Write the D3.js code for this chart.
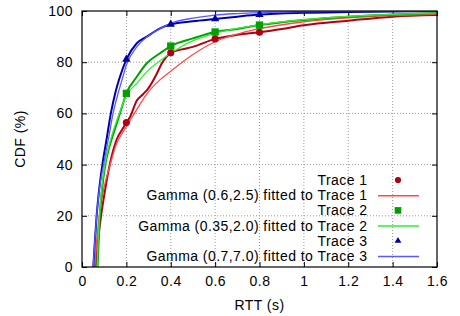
<!DOCTYPE html>
<html>
<head>
<meta charset="utf-8">
<title>RTT CDF</title>
<script src="https://d3js.org/d3.v7.min.js"></script>
<style>
  body { margin: 0; background: #fff; }
  svg text { font-family: "Liberation Sans", Arial, Helvetica, sans-serif; font-size: 14px; letter-spacing: 0.45px; fill: #000; }
  .grid line { stroke: #999; stroke-dasharray: 1,2; stroke-width: 1; }
</style>
</head>
<body>
<svg id="chart" width="460" height="316"></svg>
<script>
// x ticks (s) and y ticks (%)
var xTicks = [0, 0.2, 0.4, 0.6, 0.8, 1, 1.2, 1.4, 1.6];
var yTicks = [0, 20, 40, 60, 80, 100];
var markerX = [0.2, 0.4, 0.6, 0.8];

// measured traces [rtt, cdf]
var trace1 = [[0.062,0],[0.072,10],[0.086,20],[0.104,30],[0.125,40],[0.142,46],[0.157,50],[0.18,53.5],[0.2,56.4],[0.217,58.7],[0.247,65],[0.275,67.5],[0.299,69.8],[0.337,75.5],[0.36,79.6],[0.38,82],[0.4,83.7],[0.45,85],[0.5,86],[0.6,89.1],[0.7,90.7],[0.8,91.7],[0.9,93],[1.0,94.4],[1.2,96.2],[1.4,97.8],[1.6,98.4]];
var trace2 = [[0.07,0],[0.075,10],[0.08,20],[0.09,30],[0.105,40],[0.12,46],[0.134,50],[0.16,57],[0.18,62.5],[0.2,67.8],[0.247,74.3],[0.292,79.6],[0.352,83.5],[0.4,86.3],[0.5,89.3],[0.6,91.8],[0.7,93],[0.8,94.5],[1.0,96.5],[1.2,97.8],[1.4,98.6],[1.6,99.2]];
var trace3 = [[0.051,0],[0.058,10],[0.066,20],[0.077,30],[0.092,40],[0.111,50],[0.13,60],[0.15,68],[0.17,74],[0.2,81.1],[0.247,87.4],[0.292,90],[0.352,93.2],[0.4,94.8],[0.5,96],[0.6,96.9],[0.7,97.8],[0.8,98.6],[1.0,99.3],[1.2,99.6],[1.4,99.8],[1.6,100]];

// fitted gamma curves [rtt, cdf]
var fit1 = [[0.058,0],[0.066,10],[0.078,20],[0.097,30],[0.127,40],[0.155,48],[0.19,53.5],[0.2,54.8],[0.25,62],[0.3,68.5],[0.35,73],[0.4,76.5],[0.5,83],[0.6,88],[0.7,91],[0.8,93.1],[1.0,95.8],[1.2,97.3],[1.4,98.2],[1.6,98.8]];
var fit2 = [[0.068,0],[0.073,10],[0.079,20],[0.088,30],[0.103,40],[0.13,50],[0.16,58],[0.2,67],[0.25,72],[0.292,76.3],[0.35,80.5],[0.4,83.5],[0.5,88.4],[0.6,91.3],[0.7,93.2],[0.8,94.6],[1.0,96.6],[1.2,97.9],[1.4,98.7],[1.6,99.2]];
var fit3 = [[0.05,0],[0.058,10],[0.066,20],[0.078,30],[0.097,40],[0.119,50],[0.14,60],[0.16,67],[0.18,73],[0.2,78.9],[0.247,86],[0.292,89.8],[0.35,93],[0.4,95.2],[0.5,97.2],[0.6,98.4],[0.7,99],[0.8,99.4],[1.0,99.8],[1.2,99.9],[1.6,100]];

var labels = ["Trace 1", "Gamma (0.6,2.5) fitted to Trace 1",
              "Trace 2", "Gamma (0.35,2.0) fitted to Trace 2",
              "Trace 3", "Gamma (0.7,7.0) fitted to Trace 3"];

var svg = d3.select("#chart"),
    margin = {top: 11, right: 23, bottom: 49, left: 82},
    width = 460 - margin.left - margin.right,
    height = 316 - margin.top - margin.bottom;

var x = d3.scaleLinear().domain([0, 1.6]).range([0, width]),
    y = d3.scaleLinear().domain([0, 100]).range([height, 0]);

var g = svg.append("g")
    .attr("transform", "translate(" + margin.left + "," + margin.top + ")");

// grid
var grid = g.append("g").attr("class", "grid");
grid.selectAll(".gx").data(xTicks.slice(1, -1)).enter().append("line")
    .attr("x1", d => x(d)).attr("x2", d => x(d))
    .attr("y1", 0).attr("y2", height);
grid.selectAll(".gy").data(yTicks.slice(1, -1)).enter().append("line")
    .attr("x1", 0).attr("x2", width)
    .attr("y1", d => y(d)).attr("y2", d => y(d));

// axes, ticks pointing inward, mirrored
g.append("g")
    .attr("transform", "translate(0," + height + ")")
    .call(d3.axisBottom(x).tickValues(xTicks).tickSize(-5).tickPadding(9).tickFormat(d3.format("~g")))
    .call(a => a.select(".domain").remove());
g.append("g")
    .call(d3.axisTop(x).tickValues(xTicks).tickSize(-5).tickFormat(""))
    .call(a => a.select(".domain").remove());
g.append("g")
    .call(d3.axisLeft(y).tickValues(yTicks).tickSize(-5).tickPadding(9))
    .call(a => a.select(".domain").remove());
g.append("g")
    .attr("transform", "translate(" + width + ",0)")
    .call(d3.axisRight(y).tickValues(yTicks).tickSize(-5).tickFormat(""))
    .call(a => a.select(".domain").remove());
g.selectAll(".tick text").style("font-size", "14px");

g.append("text")
    .attr("x", width / 2).attr("y", height + 43)
    .attr("text-anchor", "middle")
    .text("RTT (s)");
g.append("text")
    .attr("transform", "rotate(-90)")
    .attr("x", -height / 2).attr("y", -57)
    .attr("text-anchor", "middle")
    .text("CDF (%)");

// legend
var series = [
  {data: trace1, fit: fit1, dark: "#b00012", light: "#ff4a4a", shape: d3.symbolCircle, size: 30},
  {data: trace2, fit: fit2, dark: "#00a000", light: "#33ee33", shape: d3.symbolSquare, size: 44},
  {data: trace3, fit: fit3, dark: "#0000a8", light: "#5a5aff", shape: d3.symbolTriangle, size: 20}
];

var line = d3.line()
    .x(d => x(d[0])).y(d => y(d[1]))
    .curve(d3.curveMonotoneX);

var legendRight = 285.5, rowH = 15.2, legendTop = 169;
series.forEach(function(s, i) {
  var ty = legendTop + rowH * (2 * i),
      fy = legendTop + rowH * (2 * i + 1);
  g.append("text").attr("x", legendRight).attr("y", ty).attr("dy", "0.35em")
      .attr("text-anchor", "end").text(labels[2 * i]);
  g.append("path")
      .attr("d", d3.symbol().type(s.shape).size(s.size)())
      .attr("transform", "translate(" + (legendRight + 30.5) + "," + ty + ")")
      .attr("fill", s.dark);
  g.append("text").attr("x", legendRight).attr("y", fy).attr("dy", "0.35em")
      .attr("text-anchor", "end").text(labels[2 * i + 1]);
  g.append("line")
      .attr("x1", legendRight + 10.5).attr("x2", legendRight + 51.5)
      .attr("y1", fy + 0.5).attr("y2", fy + 0.5)
      .attr("stroke", s.light).attr("stroke-width", 1.5);
});

// curves
g.append("clipPath").attr("id", "clip")
  .append("rect").attr("width", width).attr("height", height);
var plot = g.append("g").attr("clip-path", "url(#clip)");

series.forEach(function(s) {
  plot.append("path").datum(s.data)
      .attr("fill", "none").attr("stroke", s.dark).attr("stroke-width", 2)
      .attr("d", line);
  plot.append("path").datum(s.fit)
      .attr("fill", "none").attr("stroke", s.light).attr("stroke-width", 1.3)
      .attr("d", line);
});
series.forEach(function(s) {
  var pts = s.data.filter(d => markerX.indexOf(d[0]) >= 0);
  plot.selectAll(null).data(pts).enter().append("path")
      .attr("d", d3.symbol().type(s.shape).size(s.size + 10)())
      .attr("transform", d => "translate(" + x(d[0]) + "," + y(d[1]) + ")")
      .attr("fill", s.dark);
});

// border
g.append("rect")
    .attr("width", width).attr("height", height)
    .attr("fill", "none").attr("stroke", "#000").attr("stroke-width", 1.2);
</script>
</body>
</html>
